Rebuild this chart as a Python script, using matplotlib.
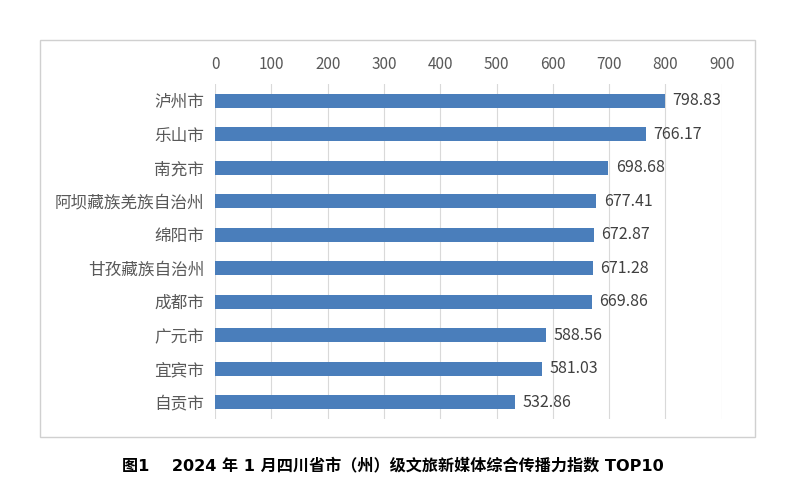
import matplotlib.pyplot as plt
from matplotlib.patches import Rectangle

plt.rcParams['font.family'] = ['Noto Sans CJK SC', 'DejaVu Sans']

cities = ['泸州市', '乐山市', '南充市', '阿坝藏族羌族自治州', '绵阳市',
          '甘孜藏族自治州', '成都市', '广元市', '宜宾市', '自贡市']
scores = [798.83, 766.17, 698.68, 677.41, 672.87,
          671.28, 669.86, 588.56, 581.03, 532.86]
ticks = [0, 100, 200, 300, 400, 500, 600, 700, 800, 900]

fig = plt.figure(figsize=(7.94, 5.0), dpi=100)
ax = fig.add_axes([0.271, 0.162, 0.638, 0.67])

y = list(range(len(cities)))
ax.barh(y, scores, height=0.43, color='#4a7ebb', zorder=3)
for yi, v in zip(y, scores):
    ax.text(v + 13, yi, f'{v:.2f}', va='center', ha='left',
            fontsize=11.5, color='#404040')

ax.set_xlim(0, 900)
ax.set_ylim(len(cities) - 0.5, -0.5)
ax.set_xticks(ticks)
ax.xaxis.tick_top()
ax.tick_params(axis='x', length=0, labelsize=11, labelcolor='#595959', pad=8)
ax.set_yticks(y)
ax.set_yticklabels(cities, fontweight='light')
ax.tick_params(axis='y', length=0, labelsize=12, labelcolor='#595959', pad=8)
ax.grid(axis='x', color='#d9d9d9', linewidth=0.8, zorder=0)
for s in ax.spines.values():
    s.set_visible(False)

# chart frame
fig.patches.append(Rectangle((40 / 794, 1 - 437 / 500), 715 / 794, 397 / 500,
                             transform=fig.transFigure, fill=False,
                             edgecolor='#d0d0d0', linewidth=1))

fig.text(122 / 794, 0.07, '图1    2024 年 1 月四川省市（州）级文旅新媒体综合传播力指数 TOP10',
         fontsize=11.6, fontweight='bold', ha='left', va='center', color='black',
         family=['DejaVu Sans', 'Noto Sans CJK SC'])

fig.savefig('out.png', dpi=100)
